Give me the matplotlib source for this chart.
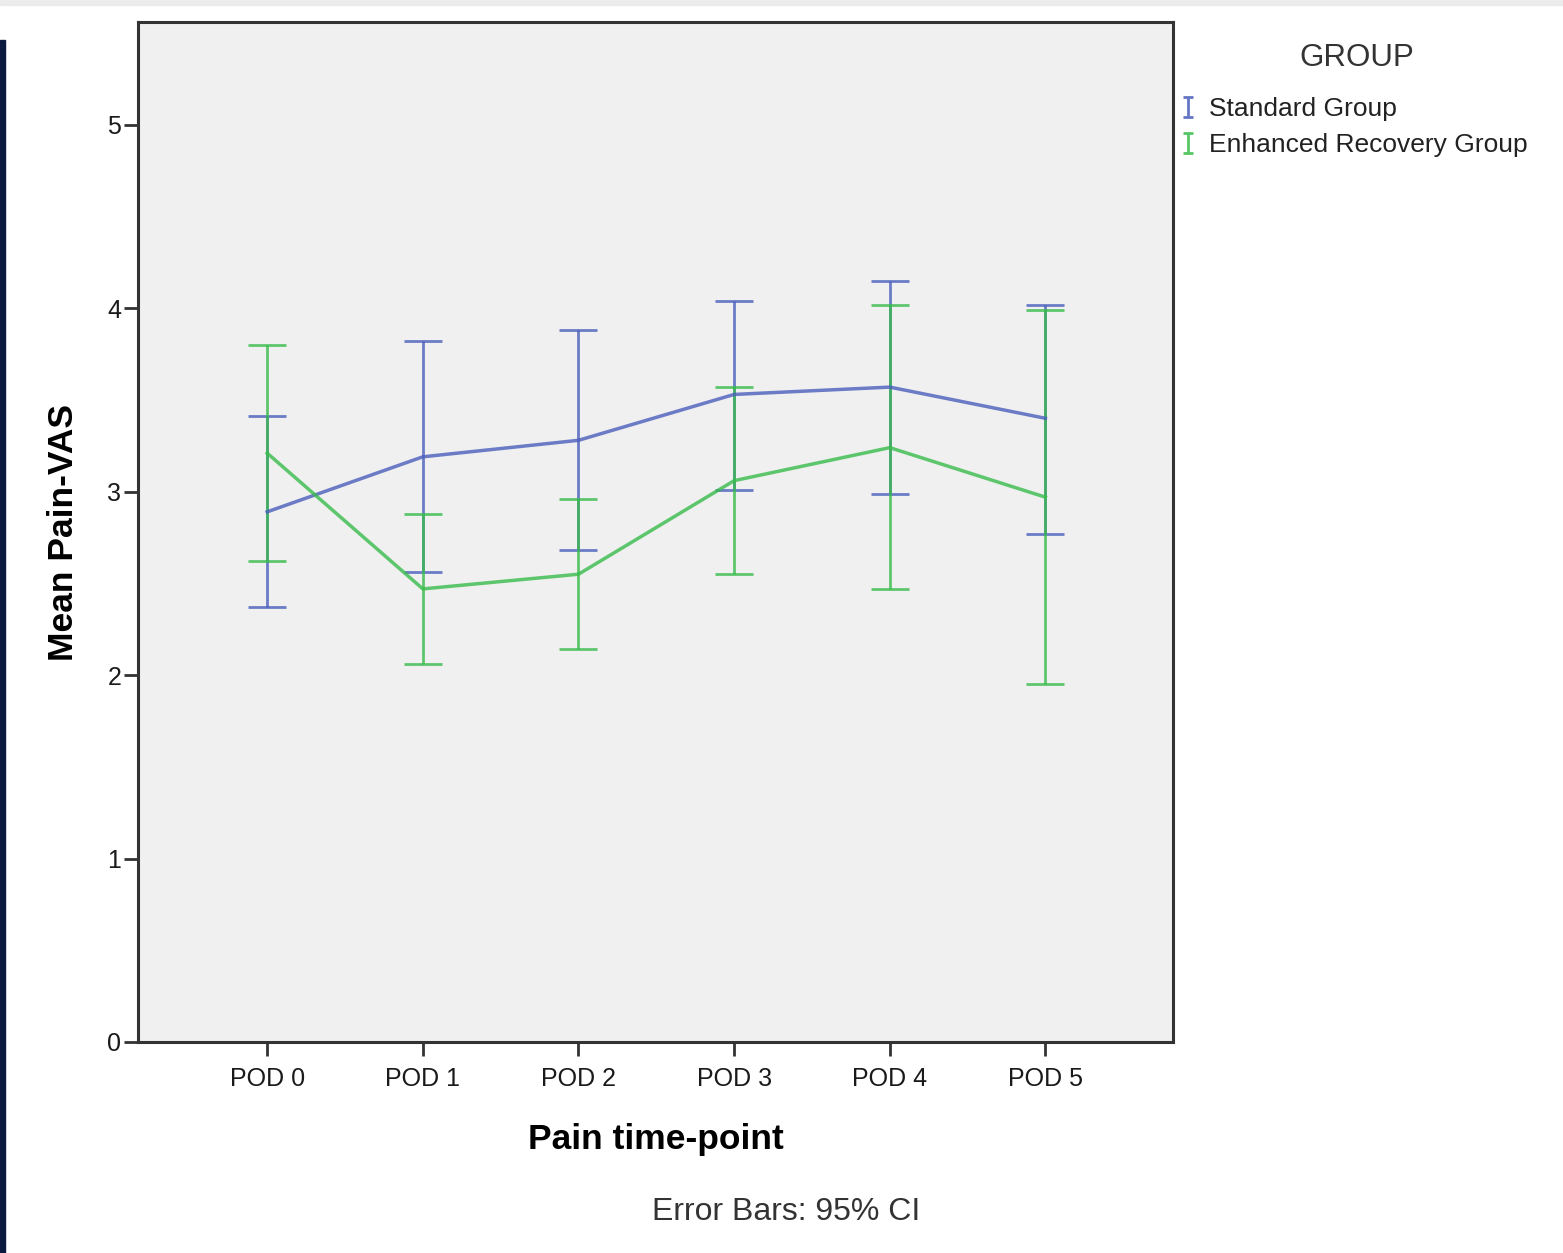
import matplotlib
matplotlib.use("Agg")
import matplotlib.pyplot as plt
from matplotlib.path import Path
from matplotlib.lines import Line2D
from matplotlib.patches import Rectangle

plt.rcParams['font.family'] = ['Liberation Sans', 'DejaVu Sans']

categories = ["POD 0", "POD 1", "POD 2", "POD 3", "POD 4", "POD 5"]
std_mean = [2.89, 3.19, 3.28, 3.53, 3.57, 3.40]
std_low = [2.37, 2.56, 2.68, 3.01, 2.99, 2.77]
std_high = [3.41, 3.82, 3.88, 4.04, 4.15, 4.02]
erg_mean = [3.21, 2.47, 2.55, 3.06, 3.24, 2.97]
erg_low = [2.62, 2.06, 2.14, 2.55, 2.47, 1.95]
erg_high = [3.80, 2.88, 2.96, 3.57, 4.02, 3.99]
y_ticks = [0, 1, 2, 3, 4, 5]
series_names = ["Standard Group", "Enhanced Recovery Group"]

blue = '#4a5ebb'
green = '#38bc4b'

fig = plt.figure(figsize=(15.63, 12.53), dpi=100)
fig.patches.append(Rectangle((0, 0), 0.003, 0.968, transform=fig.transFigure,
                             color='#0b1a3e', zorder=0))
fig.patches.append(Rectangle((0, 0.996), 1, 0.004, transform=fig.transFigure,
                             color='#ececec', zorder=0))

ax = fig.add_axes([0.0883, 0.1684, 0.6622, 0.8140])
ax.set_facecolor('#f0f0f0')

x = list(range(len(categories)))
for mean, lo, hi, col in [(std_mean, std_low, std_high, blue),
                          (erg_mean, erg_low, erg_high, green)]:
    yerr = [[m - l for m, l in zip(mean, lo)], [h - m for m, h in zip(mean, hi)]]
    ax.errorbar(x, mean, yerr=yerr, color=col, lw=2.5, elinewidth=2.0,
                capsize=14, capthick=2.0, alpha=0.8)

ax.set_xlim(-0.83, 5.82)
ax.set_ylim(0, 5.56)
ax.set_xticks(x)
ax.set_xticklabels(categories)
ax.set_yticks(y_ticks)
ax.tick_params(axis='both', direction='out', length=10, width=2, color='#333333',
               labelsize=18, labelcolor='#1a1a1a')
ax.tick_params(axis='x', pad=8)
ax.tick_params(axis='y', pad=2)
for s in ax.spines.values():
    s.set_linewidth(2.2)
    s.set_color('#333333')

ax.set_ylabel("Mean Pain-VAS", fontsize=25.5, fontweight='bold', labelpad=20)
ax.set_xlabel("Pain time-point", fontsize=25.5, fontweight='bold', labelpad=23)

fig.text(786 / 1563, 1 - 1212 / 1253, "Error Bars: 95% CI", fontsize=23,
         ha='center', va='center', color='#333333')

fig.text(1357 / 1563, 1 - 58 / 1253, "GROUP", fontsize=22.5,
         ha='center', va='center', color='#333333')

ibar = Path([(-0.5, -1), (0.5, -1), (0, -1), (0, 1), (-0.5, 1), (0.5, 1)],
            [Path.MOVETO, Path.LINETO, Path.MOVETO, Path.LINETO, Path.MOVETO, Path.LINETO])
handles = [Line2D([], [], linestyle='none', marker=ibar, markersize=15,
                  markeredgewidth=2.0, color=c, alpha=0.85) for c in (blue, green)]
leg = fig.legend(handles, series_names, loc='upper left',
                 bbox_to_anchor=(1175 / 1563, 1 - 97 / 1253), frameon=False,
                 fontsize=19, handlelength=1.0, handletextpad=0.3,
                 labelspacing=0.45, borderpad=0, borderaxespad=0)
for t in leg.get_texts():
    t.set_color('#222222')

fig.savefig("out.png", dpi=100)
